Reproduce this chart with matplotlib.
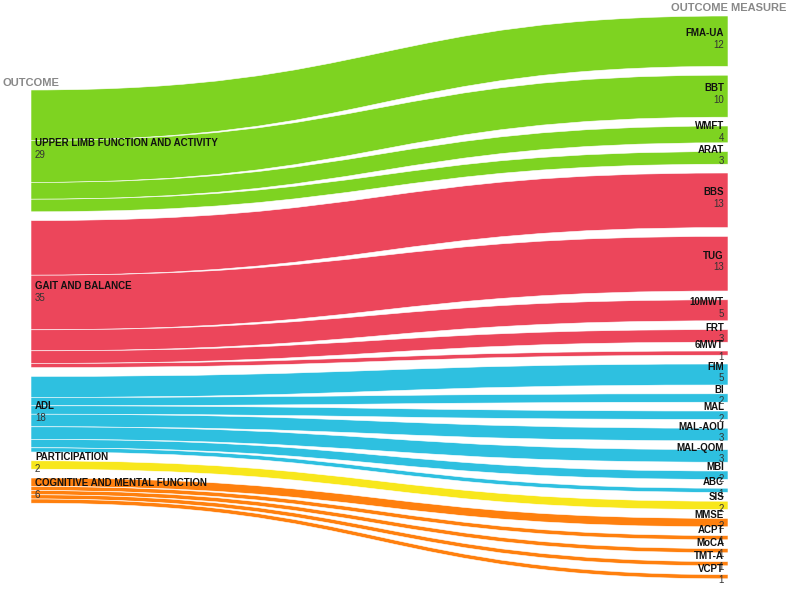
import matplotlib
matplotlib.use("Agg")
import matplotlib.pyplot as plt
from matplotlib.path import Path
from matplotlib.patches import PathPatch

plt.rcParams['font.family'] = ['Liberation Sans', 'DejaVu Sans']

# left column
outcomes = ["UPPER LIMB FUNCTION AND ACTIVITY", "GAIT AND BALANCE", "ADL",
            "PARTICIPATION", "COGNITIVE AND MENTAL FUNCTION"]
outcome_colors = ["#7ED321", "#EC465B", "#2EC0E0", "#F8E71C", "#FF800E"]

# right column
measures = ["FMA-UA", "BBT", "WMFT", "ARAT",
            "BBS", "TUG", "10MWT", "FRT", "6MWT",
            "FIM", "BI", "MAL", "MAL-AOU", "MAL-QOM", "MBI", "ABC",
            "SIS",
            "MMSE", "ACPT", "MoCA", "TMT-A", "VCPT"]
measure_counts = [12, 10, 4, 3,
                  13, 13, 5, 3, 1,
                  5, 2, 2, 3, 3, 2, 1,
                  2,
                  2, 1, 1, 1, 1]
measure_outcome = [0, 0, 0, 0,
                   1, 1, 1, 1, 1,
                   2, 2, 2, 2, 2, 2, 2,
                   3,
                   4, 4, 4, 4, 4]

outcome_totals = [sum(c for c, o in zip(measure_counts, measure_outcome) if o == i)
                  for i in range(len(outcomes))]

# layout in pixels
W, H = 789, 589
k = 4.2          # px per unit
gap = 8.8
x0, x1 = 31, 728
left_top, right_top = 90, 16

fig = plt.figure(figsize=(W / 100, H / 100), dpi=100)
ax = fig.add_axes([0, 0, 1, 1])
ax.set_xlim(0, W)
ax.set_ylim(H, 0)
ax.axis("off")

# node positions
left_y = []
y = left_top
for t in outcome_totals:
    left_y.append(y)
    y += t * k + gap

right_y = []
y = right_top
for c in measure_counts:
    right_y.append(y)
    y += c * k + gap

# links
offset = list(left_y)
xm = (x0 + x1) / 2
for j, (c, o) in enumerate(zip(measure_counts, measure_outcome)):
    h = c * k
    ys = offset[o]
    yt = right_y[j]
    offset[o] += h
    verts = [(x0, ys), (xm, ys), (xm, yt), (x1, yt),
             (x1, yt + h),
             (xm, yt + h), (xm, ys + h), (x0, ys + h),
             (x0, ys)]
    codes = [Path.MOVETO, Path.CURVE4, Path.CURVE4, Path.CURVE4,
             Path.LINETO,
             Path.CURVE4, Path.CURVE4, Path.CURVE4,
             Path.CLOSEPOLY]
    ax.add_patch(PathPatch(Path(verts, codes), facecolor=outcome_colors[o],
                           edgecolor="white", linewidth=0.4))

fs = 7
for i, name in enumerate(outcomes):
    c = left_y[i] + outcome_totals[i] * k / 2
    ax.text(35, c - 8, name, fontsize=fs, fontweight="bold", color="#111",
            va="center", ha="left")
    ax.text(35, c + 4, str(outcome_totals[i]), fontsize=fs, color="#333",
            va="center", ha="left")

for j, name in enumerate(measures):
    c = right_y[j] + measure_counts[j] * k / 2
    ax.text(724, c - 8, name, fontsize=fs, fontweight="bold", color="#111",
            va="center", ha="right")
    ax.text(724, c + 3.5, str(measure_counts[j]), fontsize=fs, color="#333",
            va="center", ha="right")

ax.text(3, 83, "OUTCOME", fontsize=8, fontweight="bold", color="#888",
        va="center", ha="left")
ax.text(786, 8, "OUTCOME MEASURE", fontsize=8, fontweight="bold", color="#888",
        va="center", ha="right")

fig.savefig("out.png", dpi=100)
